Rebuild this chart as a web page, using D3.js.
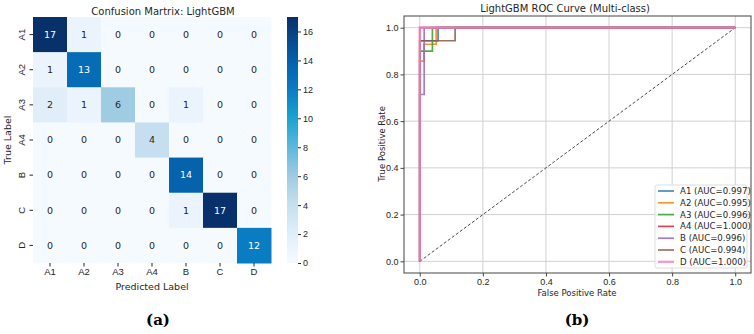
<!DOCTYPE html>
<html>
<head>
<meta charset="utf-8">
<script src="https://cdn.jsdelivr.net/npm/d3@7"></script>
<style>
  body { margin: 0; background: #fff; }
  svg { display: block; font-family: "DejaVu Sans", sans-serif; }
</style>
</head>
<body>
<div class="result"></div>
<script>
// confusion matrix data
const classes = ['A1', 'A2', 'A3', 'A4', 'B', 'C', 'D'];
const matrix = [
  [17, 1, 0, 0, 0, 0, 0],
  [1, 13, 0, 0, 0, 0, 0],
  [2, 1, 6, 0, 1, 0, 0],
  [0, 0, 0, 4, 0, 0, 0],
  [0, 0, 0, 0, 14, 0, 0],
  [0, 0, 0, 0, 1, 17, 0],
  [0, 0, 0, 0, 0, 0, 12]
];
const cbarTicks = [0, 2, 4, 6, 8, 10, 12, 14, 16];

// ROC data (step points)
const aucs = [0.997, 0.995, 0.996, 1.000, 0.996, 0.994, 1.000];
const rocFpr = [
  [0, 0, 0.058, 0.058, 1],
  [0, 0, 0.013, 0.013, 0.052, 0.052, 1],
  [0, 0, 0.040, 0.040, 1],
  [0, 0, 1],
  [0, 0, 0.014, 0.014, 1],
  [0, 0, 0.112, 0.112, 1],
  [0, 0, 1]
];
const rocTpr = [
  [0, 0.944, 0.944, 1, 1],
  [0, 0.857, 0.857, 0.929, 0.929, 1, 1],
  [0, 0.9, 0.9, 1, 1],
  [0, 1, 1],
  [0, 0.714, 0.714, 1, 1],
  [0, 0.944, 0.944, 1, 1],
  [0, 1, 1]
];
const rocTicks = [0, 0.2, 0.4, 0.6, 0.8, 1.0];
const lineColors = ['#1f77b4', '#ff7f0e', '#2ca02c', '#d62728', '#9467bd', '#8c564b', '#f47fc6'];

const w = 754;
const h = 334;

const svg = d3.select('.result')
  .append('svg')
  .attr('width', w)
  .attr('height', h);

// ---------- (a) heatmap ----------
const hx = d3.scaleBand().domain(classes).range([33, 271]);
const hy = d3.scaleBand().domain(classes).range([17, 263]);
const vmax = 17;
const color = d3.scaleLinear()
  .domain([0, 2, 4, 6, 8, 10, 12, 13, 14, 17].map(v => v / vmax))
  .range(['#f5faff', '#e1eef9', '#c6dff0', '#9fcce2', '#5db8dc', '#18a4d2', '#0a7cc1', '#076cb6', '#0562ad', '#08306b'])
  .clamp(true);

const cells = [];
matrix.forEach((row, i) => row.forEach((v, j) => cells.push({ r: classes[i], c: classes[j], v: v })));

svg.append('g').selectAll('rect')
  .data(cells)
  .enter()
  .append('rect')
  .attr('x', d => hx(d.c))
  .attr('y', d => hy(d.r))
  .attr('width', hx.bandwidth() + 0.5)
  .attr('height', hy.bandwidth() + 0.5)
  .attr('fill', d => color(d.v / vmax));

svg.append('g').selectAll('text')
  .data(cells)
  .enter()
  .append('text')
  .attr('x', d => hx(d.c) + hx.bandwidth() / 2)
  .attr('y', d => hy(d.r) + hy.bandwidth() / 2)
  .attr('dy', '0.35em')
  .attr('text-anchor', 'middle')
  .attr('font-size', 9.5)
  .attr('fill', d => d.v >= 10 ? '#ffffff' : '#262626')
  .text(d => d.v);

const hxAxis = svg.append('g')
  .attr('transform', 'translate(0,263)')
  .call(d3.axisBottom(hx).tickSize(3.5).tickPadding(2));
hxAxis.select('.domain').remove();
hxAxis.selectAll('text').attr('font-size', 9.5).attr('fill', '#262626');
hxAxis.selectAll('line').attr('stroke', '#262626');

const hyAxis = svg.append('g')
  .attr('transform', 'translate(33,0)')
  .call(d3.axisLeft(hy).tickSize(3.5));
hyAxis.select('.domain').remove();
hyAxis.selectAll('line').attr('stroke', '#262626');
hyAxis.selectAll('text')
  .attr('font-size', 9.5)
  .attr('fill', '#262626')
  .attr('text-anchor', 'middle')
  .attr('x', 0)
  .attr('dy', 0)
  .attr('transform', 'translate(-12,0) rotate(-90)')
  .attr('dominant-baseline', 'central');

svg.append('text')
  .attr('x', 163).attr('y', 15)
  .attr('text-anchor', 'middle')
  .attr('font-size', 10)
  .attr('fill', '#262626')
  .text('Confusion Martrix: LightGBM');

svg.append('text')
  .attr('x', 152).attr('y', 290)
  .attr('text-anchor', 'middle')
  .attr('font-size', 9.5)
  .attr('fill', '#262626')
  .text('Predicted Label');

svg.append('text')
  .attr('transform', 'translate(11,140) rotate(-90)')
  .attr('text-anchor', 'middle')
  .attr('font-size', 9.5)
  .attr('fill', '#262626')
  .text('True Label');

// colorbar
const cbY = d3.scaleLinear().domain([0, vmax]).range([263, 17]);
const grad = svg.append('defs').append('linearGradient')
  .attr('id', 'cbar')
  .attr('x1', 0).attr('y1', 1).attr('x2', 0).attr('y2', 0);
d3.range(0, 1.0001, 0.05).forEach(t => {
  grad.append('stop').attr('offset', t).attr('stop-color', color(t));
});
svg.append('rect')
  .attr('x', 287).attr('y', 17)
  .attr('width', 11).attr('height', 246)
  .attr('fill', 'url(#cbar)');
const cbAxis = svg.append('g')
  .attr('transform', 'translate(298,0)')
  .call(d3.axisRight(cbY).tickValues(cbarTicks).tickSize(3).tickPadding(2));
cbAxis.select('.domain').remove();
cbAxis.selectAll('text').attr('font-size', 9).attr('fill', '#262626');
cbAxis.selectAll('line').attr('stroke', '#262626');

svg.append('text')
  .attr('x', 158).attr('y', 325)
  .attr('text-anchor', 'middle')
  .attr('font-family', '"DejaVu Serif", "Liberation Serif", serif')
  .attr('font-weight', 'bold')
  .attr('font-size', 15)
  .attr('fill', '#000')
  .text('(a)');

// ---------- (b) ROC ----------
const rx = d3.scaleLinear().domain([-0.05, 1.05]).range([404, 751]);
const ry = d3.scaleLinear().domain([-0.05, 1.05]).range([273, 16]);

const grid = svg.append('g');
grid.selectAll('line.gx')
  .data(rocTicks)
  .enter().append('line')
  .attr('x1', d => rx(d)).attr('x2', d => rx(d))
  .attr('y1', 16).attr('y2', 273)
  .attr('stroke', '#d0d0d0').attr('stroke-width', 1);
grid.selectAll('line.gy')
  .data(rocTicks)
  .enter().append('line')
  .attr('y1', d => ry(d)).attr('y2', d => ry(d))
  .attr('x1', 404).attr('x2', 751)
  .attr('stroke', '#d0d0d0').attr('stroke-width', 1);

// diagonal
svg.append('line')
  .attr('x1', rx(0)).attr('y1', ry(0))
  .attr('x2', rx(1)).attr('y2', ry(1))
  .attr('stroke', '#333')
  .attr('stroke-width', 0.9)
  .attr('stroke-dasharray', '3,2');

const line = d3.line().x(d => rx(d[0])).y(d => ry(d[1]));
classes.forEach((c, i) => {
  svg.append('path')
    .datum(d3.zip(rocFpr[i], rocTpr[i]))
    .attr('d', line)
    .attr('fill', 'none')
    .attr('stroke', lineColors[i])
    .attr('stroke-opacity', 0.85)
    .attr('stroke-width', i === 6 ? 2.2 : 1.7);
});

// frame
svg.append('rect')
  .attr('x', 404).attr('y', 16)
  .attr('width', 347).attr('height', 257)
  .attr('fill', 'none')
  .attr('stroke', '#444')
  .attr('stroke-width', 1);

const rxAxis = svg.append('g')
  .attr('transform', 'translate(0,273)')
  .call(d3.axisBottom(rx).tickValues(rocTicks).tickFormat(d3.format('.1f')).tickSize(3.5).tickPadding(2));
rxAxis.select('.domain').remove();
rxAxis.selectAll('text').attr('font-size', 9).attr('fill', '#262626');
rxAxis.selectAll('line').attr('stroke', '#444');

const ryAxis = svg.append('g')
  .attr('transform', 'translate(404,0)')
  .call(d3.axisLeft(ry).tickValues(rocTicks).tickFormat(d3.format('.1f')).tickSize(3.5).tickPadding(2));
ryAxis.select('.domain').remove();
ryAxis.selectAll('text').attr('font-size', 9).attr('fill', '#262626');
ryAxis.selectAll('line').attr('stroke', '#444');

svg.append('text')
  .attr('x', 565).attr('y', 12)
  .attr('text-anchor', 'middle')
  .attr('font-size', 10)
  .attr('fill', '#262626')
  .text('LightGBM ROC Curve (Multi-class)');

svg.append('text')
  .attr('x', 577).attr('y', 296)
  .attr('text-anchor', 'middle')
  .attr('font-size', 8.5)
  .attr('fill', '#262626')
  .text('False Positive Rate');

svg.append('text')
  .attr('transform', 'translate(385,144) rotate(-90)')
  .attr('text-anchor', 'middle')
  .attr('font-size', 8.5)
  .attr('fill', '#262626')
  .text('True Positive Rate');

// legend
const leg = svg.append('g');
leg.append('rect')
  .attr('x', 655).attr('y', 185)
  .attr('width', 92).attr('height', 83)
  .attr('rx', 2)
  .attr('fill', '#fff').attr('fill-opacity', 0.85)
  .attr('stroke', '#ddd');
classes.forEach((c, i) => {
  const yy = 191 + i * 11.8;
  leg.append('line')
    .attr('x1', 658).attr('x2', 674)
    .attr('y1', yy).attr('y2', yy)
    .attr('stroke', lineColors[i])
    .attr('stroke-opacity', 0.85)
    .attr('stroke-width', i === 6 ? 2.2 : 1.7);
  leg.append('text')
    .attr('x', 680).attr('y', yy)
    .attr('dy', '0.35em')
    .attr('font-size', 8.6)
    .attr('fill', '#262626')
    .text(c + ' (AUC=' + aucs[i].toFixed(3) + ')');
});

svg.append('text')
  .attr('x', 577).attr('y', 325)
  .attr('text-anchor', 'middle')
  .attr('font-family', '"DejaVu Serif", "Liberation Serif", serif')
  .attr('font-weight', 'bold')
  .attr('font-size', 15)
  .attr('fill', '#000')
  .text('(b)');
</script>
</body>
</html>
